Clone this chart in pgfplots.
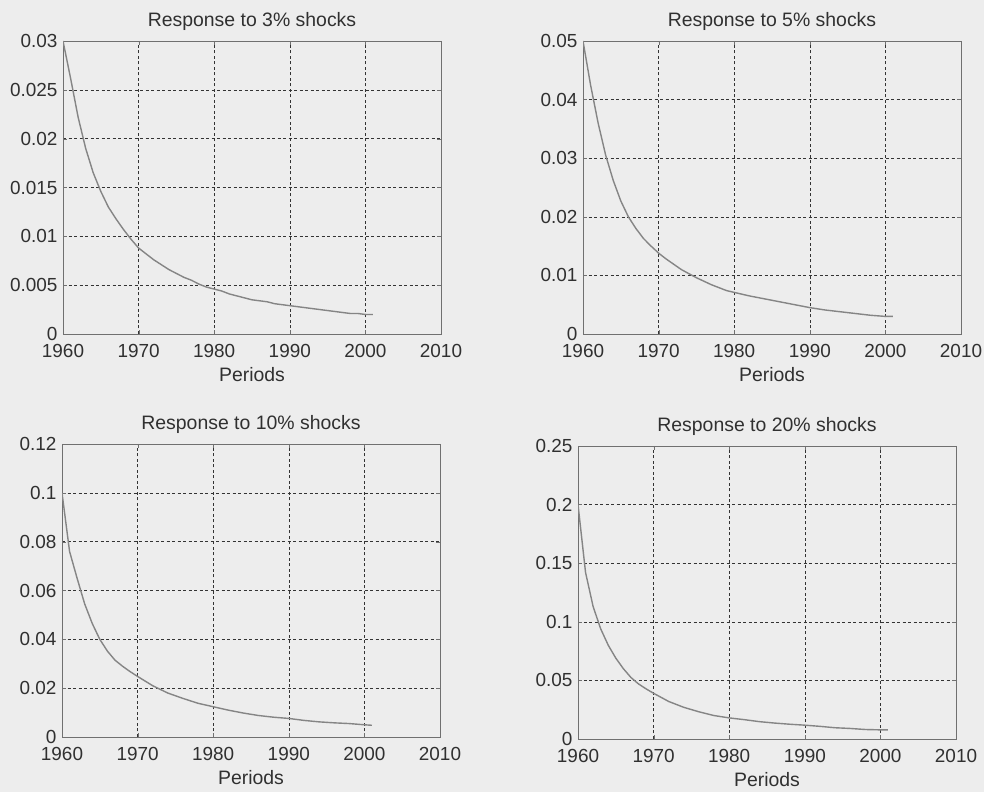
\documentclass[border=0pt]{standalone}
\usepackage{pgfplots}
\pgfplotsset{compat=1.18}
\usepackage{fontspec}
\setmainfont{Liberation Sans}

\definecolor{paper}{HTML}{EDEDED}
\definecolor{ink}{HTML}{303030}
\definecolor{frame}{HTML}{707070}
\definecolor{curve}{HTML}{858585}

% common look of the four panels
\pgfplotsset{
  irf/.style={
    width=378bp, height=293bp, scale only axis,
    anchor=south west,
    xmin=1960, xmax=2010, ymin=0,
    xtick={1960,1970,...,2010},
    xticklabels={1960,1970,1980,1990,2000,2010},
    scaled y ticks=false,
    axis line style={frame, line width=0.8bp},
    grid=major,
    major grid style={black!80, line width=0.5bp, dash pattern=on 3bp off 2.5bp},
    tick style={frame},
    major tick length=4bp,
    tick align=inside,
    ticklabel style={font=\fontsize{19}{22}\selectfont, text=ink},
    xticklabel style={yshift=-7bp},
    yticklabel style={xshift=-2bp},
    title style={font=\fontsize{19.5}{22}\selectfont, text=ink, yshift=1bp},
    xlabel style={font=\fontsize{19.5}{22}\selectfont, text=ink, yshift=-3bp},
    cycle list={{curve, mark=none}},
    every axis plot post/.append style={line width=1.4bp},
  }
}

\begin{document}
\begin{tikzpicture}
\fill[paper] (0,0) rectangle (984bp,792bp);

% 3% shocks
\begin{axis}[irf, at={(63bp,458bp)},
  title={Response to 3\% shocks}, xlabel={Periods},
  ymax=0.03, ytick={0,0.005,0.01,0.015,0.02,0.025,0.03},
  yticklabels={0,0.005,0.01,0.015,0.02,0.025,0.03}]
\addplot coordinates {
(1960,0.0300) (1961,0.0262) (1962,0.0222) (1963,0.0190) (1964,0.0165)
(1965,0.0146) (1966,0.0130) (1967,0.0118) (1968,0.0107) (1969,0.0097)
(1970,0.0088) (1971,0.0082) (1972,0.0076) (1973,0.0071) (1974,0.0066)
(1975,0.0062) (1976,0.0058) (1977,0.0055) (1978,0.0051) (1979,0.0048)
(1980,0.0046) (1981,0.0044) (1982,0.0041) (1983,0.0039) (1984,0.0037)
(1985,0.0035) (1986,0.0034) (1987,0.0033) (1988,0.0031) (1989,0.0030)
(1990,0.0029) (1991,0.0028) (1992,0.0027) (1993,0.0026) (1994,0.0025)
(1995,0.0024) (1996,0.0023) (1997,0.0022) (1998,0.0021) (1999,0.0021)
(2000,0.0020) (2001,0.0020)
};
\end{axis}

% 5% shocks
\begin{axis}[irf, at={(583bp,458bp)},
  title={Response to 5\% shocks}, xlabel={Periods},
  ymax=0.05, ytick={0,0.01,0.02,0.03,0.04,0.05},
  yticklabels={0,0.01,0.02,0.03,0.04,0.05}]
\addplot coordinates {
(1960,0.0500) (1961,0.0425) (1962,0.0360) (1963,0.0305) (1964,0.0262)
(1965,0.0227) (1966,0.0200) (1967,0.0180) (1968,0.0163) (1969,0.0150)
(1970,0.0138) (1971,0.0128) (1972,0.0119) (1973,0.0110) (1974,0.0103)
(1975,0.0096) (1976,0.0090) (1977,0.0084) (1978,0.0079) (1979,0.0074)
(1980,0.0071) (1982,0.0065) (1984,0.0060) (1986,0.0055) (1988,0.0050)
(1990,0.0045) (1992,0.0041) (1994,0.0038) (1996,0.0035) (1998,0.0032)
(2000,0.0030) (2001,0.0030)
};
\end{axis}

% 10% shocks
\begin{axis}[irf, at={(62bp,55bp)},
  title={Response to 10\% shocks}, xlabel={Periods},
  ymax=0.12, ytick={0,0.02,0.04,0.06,0.08,0.1,0.12},
  yticklabels={0,0.02,0.04,0.06,0.08,0.1,0.12}]
\addplot coordinates {
(1960,0.1000) (1961,0.0760) (1962,0.0650) (1963,0.0545) (1964,0.0465)
(1965,0.0400) (1966,0.0352) (1967,0.0315) (1968,0.0290) (1969,0.0268)
(1970,0.0248) (1972,0.0210) (1974,0.0180) (1976,0.0158) (1978,0.0138)
(1980,0.0124) (1982,0.0110) (1984,0.0098) (1986,0.0088) (1988,0.0081)
(1990,0.0076) (1992,0.0068) (1994,0.0062) (1996,0.0058) (1998,0.0055)
(2000,0.0050) (2001,0.0048)
};
\end{axis}

% 20% shocks
\begin{axis}[irf, at={(578bp,53bp)},
  title={Response to 20\% shocks}, xlabel={Periods},
  ymax=0.25, ytick={0,0.05,0.1,0.15,0.2,0.25},
  yticklabels={0,0.05,0.1,0.15,0.2,0.25}]
\addplot coordinates {
(1960,0.2000) (1961,0.1420) (1962,0.1130) (1963,0.0940) (1964,0.0800)
(1965,0.0690) (1966,0.0600) (1967,0.0525) (1968,0.0470) (1969,0.0428)
(1970,0.0390) (1972,0.0320) (1974,0.0270) (1976,0.0232) (1978,0.0200)
(1980,0.0180) (1982,0.0165) (1984,0.0148) (1986,0.0136) (1988,0.0126)
(1990,0.0118) (1992,0.0108) (1994,0.0096) (1996,0.0090) (1998,0.0081)
(2000,0.0078) (2001,0.0078)
};
\end{axis}

\pgfresetboundingbox
\useasboundingbox (0,0) rectangle (984bp,792bp);
\end{tikzpicture}
\end{document}
